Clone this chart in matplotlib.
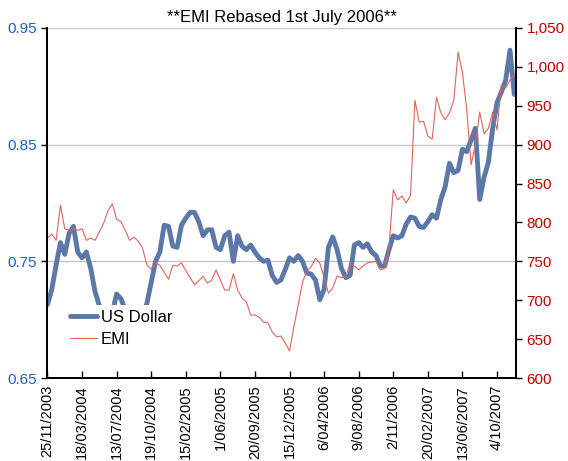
import matplotlib
matplotlib.use('Agg')
import numpy as np
from matplotlib import pyplot as plt
from matplotlib.ticker import FuncFormatter

plt.rcParams['font.family'] = ['Liberation Sans', 'DejaVu Sans']

# tick labels (one every 8 observations)
date_labels = ['25/11/2003', '18/03/2004', '13/07/2004', '19/10/2004', '15/02/2005',
               '1/06/2005', '20/09/2005', '15/12/2005', '6/04/2006', '9/08/2006',
               '2/11/2006', '20/02/2007', '13/06/2007', '4/10/2007']
obs_per_label = 8

# US Dollar (left axis)
usd = [0.713, 0.726, 0.747, 0.766, 0.756, 0.774, 0.780, 0.758, 0.753, 0.758,
       0.744, 0.724, 0.712, 0.703, 0.700, 0.706, 0.722, 0.718, 0.708, 0.700,
       0.698, 0.699, 0.703, 0.714, 0.732, 0.750, 0.758, 0.781, 0.780, 0.763,
       0.762, 0.781, 0.787, 0.792, 0.792, 0.784, 0.772, 0.777, 0.777, 0.762,
       0.760, 0.772, 0.775, 0.750, 0.772, 0.763, 0.760, 0.764, 0.758, 0.753,
       0.750, 0.751, 0.738, 0.732, 0.734, 0.743, 0.753, 0.750, 0.755, 0.750,
       0.740, 0.739, 0.734, 0.717, 0.726, 0.762, 0.771, 0.760, 0.744, 0.736,
       0.738, 0.764, 0.766, 0.762, 0.765, 0.758, 0.755, 0.746, 0.746, 0.760,
       0.772, 0.770, 0.772, 0.782, 0.788, 0.787, 0.780, 0.779, 0.784, 0.790,
       0.787, 0.803, 0.814, 0.834, 0.826, 0.828, 0.846, 0.844, 0.854, 0.864,
       0.803, 0.822, 0.835, 0.864, 0.886, 0.895, 0.905, 0.931, 0.893]

# EMI (right axis)
emi = [780, 785, 777, 822, 792, 790, 792, 790, 792, 777,
       780, 777, 788, 799, 815, 824, 804, 801, 790, 777,
       781, 776, 767, 745, 740, 748, 745, 736, 727, 745,
       744, 748, 738, 729, 720, 725, 731, 722, 726, 739,
       726, 713, 713, 734, 713, 703, 698, 681, 681, 678,
       672, 671, 659, 653, 654, 645, 635, 666, 694, 723,
       738, 743, 754, 748, 729, 709, 716, 731, 729, 730,
       747, 744, 739, 744, 748, 749, 750, 739, 741, 767,
       842, 829, 834, 825, 835, 957, 929, 930, 911, 907,
       961, 941, 932, 941, 957, 1019, 993, 945, 874, 900,
       942, 914, 921, 942, 919, 977, 973, 983, 990]

usd_color = '#5b78a8'
emi_color = '#e0645c'

x = np.arange(len(usd))

fig = plt.figure(figsize=(5.68, 4.61), dpi=100)
ax = fig.add_axes([0.0836, 0.18, 0.8249, 0.7593])
ax2 = ax.twinx()

l1, = ax.plot(x, usd, color=usd_color, lw=3.5, solid_capstyle='round', label='US Dollar')
l2, = ax2.plot(x, emi, color=emi_color, lw=0.8, label='EMI')

ax.set_xlim(0, 108.4)
ax.set_ylim(0.65, 0.95)
ax2.set_ylim(600, 1050)

ax.set_yticks([0.65, 0.75, 0.85, 0.95])
ax.set_yticklabels(['0.65', '0.75', '0.85', '0.95'])
ax2.set_yticks(np.arange(600, 1051, 50))
ax2.yaxis.set_major_formatter(FuncFormatter(lambda v, p: f'{v:,.0f}'))

ax.set_xticks(np.arange(len(date_labels)) * obs_per_label)
ax.set_xticklabels(date_labels, rotation=90)

for v in [0.75, 0.85, 0.95]:
    ax.axhline(v, color='#c4c4c4', lw=1, zorder=0)

ax.tick_params(axis='y', colors='#1f5fbf', labelsize=11, length=4, width=1, direction='out')
ax.tick_params(axis='y', color='black')
ax2.tick_params(axis='y', colors='#c00000', labelsize=11, length=4, width=1, direction='out')
ax2.tick_params(axis='y', color='black')
ax.tick_params(axis='x', labelsize=10.5, length=5, width=1, direction='in', pad=5)

for a in (ax, ax2):
    a.spines['top'].set_visible(False)
    a.spines['left'].set_linewidth(1.3)
    a.spines['right'].set_linewidth(1.3)
    a.spines['bottom'].set_linewidth(1.3)

ax.set_title('**EMI Rebased 1st July 2006**', fontsize=12, pad=4)

leg = ax2.legend([l1, l2], ['US Dollar', 'EMI'], loc='lower left',
                 bbox_to_anchor=(0.02, 0.05), fontsize=12, frameon=True,
                 framealpha=1, edgecolor='none', fancybox=False,
                 handlelength=1.6, handletextpad=0.25, borderpad=0.3,
                 labelspacing=0.45)

plt.savefig('out.png', dpi=100)
